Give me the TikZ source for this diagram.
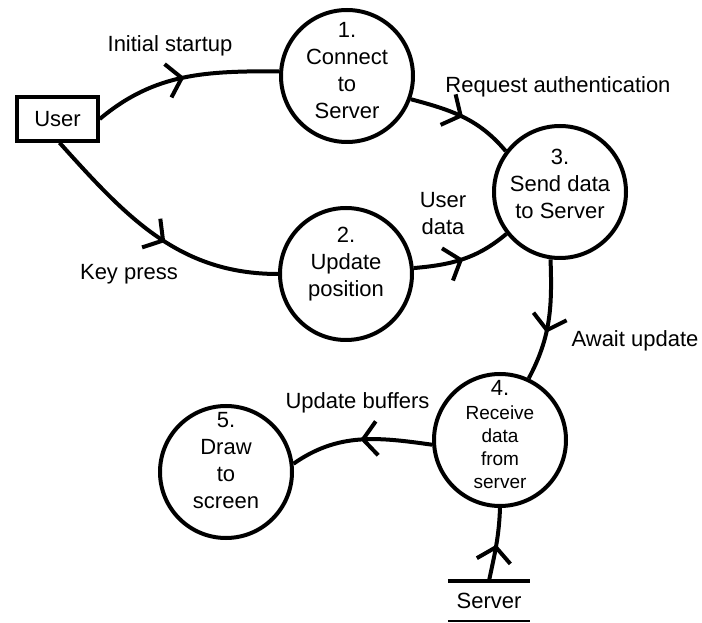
\documentclass[tikz,border=0pt]{standalone}
\usepackage{fontspec}
\setmainfont{Liberation Sans}
\usetikzlibrary{arrows.meta, decorations.markings}

\begin{document}
\begin{tikzpicture}[x=1pt, y=1pt,
                procnode/.style={draw, circle, line width=4pt, minimum size=132pt,
                    inner sep=0pt},
                proctext/.style={align=center, inner sep=0pt,
                    font=\fontsize{22}{27}\selectfont},
                extbox/.style={draw, line width=3.5pt, minimum width=81pt,
                    minimum height=44pt, font=\fontsize{22}{27}\selectfont},
                flowlabel/.style={align=center, font=\fontsize{22}{27}\selectfont},
                flow/.style={line width=4pt, postaction={decorate},
                    decoration={markings, mark=at position #1 with
                        {\arrow{Straight Barb[length=14pt, width=34pt]}}}},
                flow/.default=0.5
            ]
            \useasboundingbox (0, 0) rectangle (702, 622);

            % external entity and data store
            \node[extbox] (user) at (57.5, 503) {User};
            \node[font=\fontsize{22}{27}\selectfont, minimum width=82pt,
                minimum height=40pt] (server) at (489, 21) {Server};
            \draw[line width=3.5pt] (server.north west) -- (server.north east);
            \draw[line width=2.5pt] (server.south west) -- (server.south east);

            % processes
            \node[procnode, label={[proctext, yshift=5pt]center:{1.\\Connect\\to\\Server}}]
                (connect) at (347, 546) {};
            \node[procnode, label={[proctext, yshift=10pt]center:{2.\\Update\\position}}]
                (update) at (346, 348) {};
            \node[procnode, label={[proctext, yshift=8pt]center:{3.\\Send data\\to Server}}]
                (send) at (560, 430) {};
            \node[procnode, label={[proctext, yshift=5pt, font=\fontsize{19}{23}\selectfont]
                center:{{\fontsize{22}{27}\selectfont 4.}\\[1pt]Receive\\data\\from\\server}}]
                (receive) at (500, 182) {};
            \node[procnode, label={[proctext, yshift=11pt]center:{5.\\Draw\\to\\screen}}]
                (draw) at (226, 150) {};

            % flows
            \draw[flow] (user.east) to[out=40, in=180] (connect.176);
            \draw[flow=0.55] (user.-85) to[out=-48, in=180] (update.west);
            \draw[flow] (connect.-20) to[out=-15, in=130] (send.143);
            \draw[flow] (update.5) to[out=5, in=220] (send.218);
            \draw[flow=0.6] (send.-98) to[out=-88, in=62] (receive.65);
            \draw[flow] (receive.184) to[out=172, in=35] (draw.7);
            \draw[flow] (server.north) to[out=78, in=-92] (receive.south);

            % flow labels
            \node[flowlabel] (lstart) at (170, 576) {Initial startup};
            \node[flowlabel] (lkey) at (129, 348) {Key press};
            \node[flowlabel] (lauth) at (558, 535) {Request authentication};
            \node[flowlabel] (ldata) at (443, 408) {User\\data};
            \node[flowlabel] (lawait) at (635, 281) {Await update};
            \node[flowlabel] (lbuf) at (357.5, 219) {Update buffers};

            \end{tikzpicture}
\end{document}
